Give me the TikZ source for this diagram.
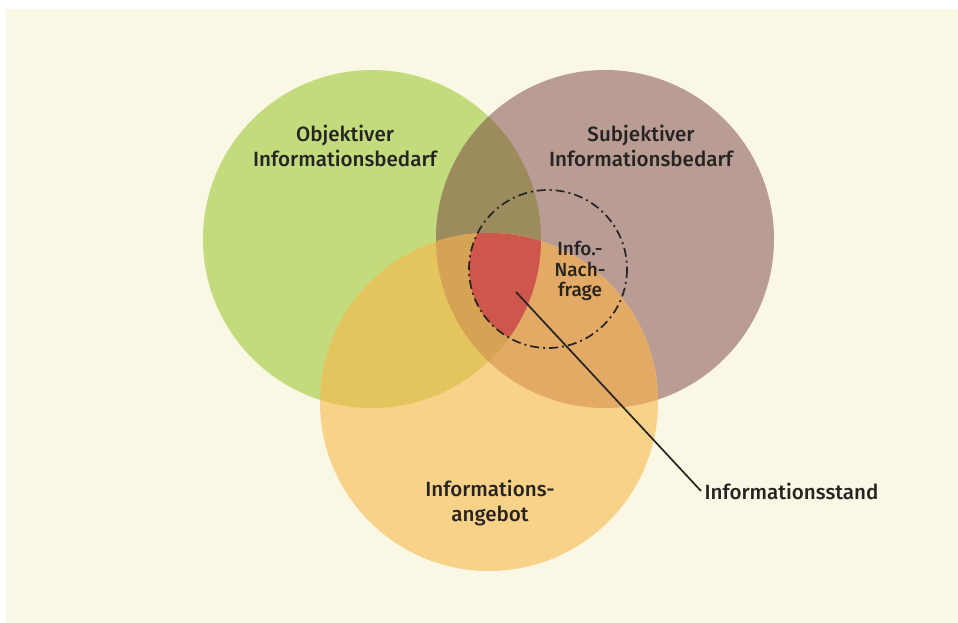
\documentclass[tikz,border=0pt]{standalone}
\usepackage{fontspec}
\setmainfont{Fira Sans Medium}
\usetikzlibrary{positioning}

\definecolor{paper}{RGB}{250,247,228}
\definecolor{objgreen}{RGB}{194,219,125}
\definecolor{subjbrown}{RGB}{185,156,148}
\definecolor{offerorange}{RGB}{249,210,138}
\definecolor{gbmix}{RGB}{156,139,92}
\definecolor{gomix}{RGB}{226,197,92}
\definecolor{bomix}{RGB}{226,170,100}
\definecolor{gbomix}{RGB}{213,163,84}
\definecolor{standred}{RGB}{206,86,76}
\definecolor{ink}{RGB}{38,36,34}

\begin{document}
\begin{tikzpicture}[
    x=1pt, y=-1pt,
    label/.style={text=ink, align=center, font=\fontsize{20.6}{25}\selectfont},
    demand/.style={draw=ink, line width=1.7pt, dash pattern=on 9pt off 4pt on 2pt off 4pt},
    pointer/.style={draw=ink, line width=1.7pt}
]
\useasboundingbox (0,0) rectangle (958,623);
\fill[paper] (6,9) rectangle (958,623);

% the three sets
\coordinate (obj) at (372,239);
\coordinate (subj) at (605,239);
\coordinate (offer) at (489,402);
\coordinate (nachfrage) at (548,269);
\def\setradius{169}

\fill[objgreen] (obj) circle (\setradius);
\fill[subjbrown] (subj) circle (\setradius);
\fill[offerorange] (offer) circle (\setradius);

% pairwise overlaps
\begin{scope}
  \clip (obj) circle (\setradius);
  \fill[gbmix] (subj) circle (\setradius);
  \fill[gomix] (offer) circle (\setradius);
\end{scope}
\begin{scope}
  \clip (subj) circle (\setradius);
  \fill[bomix] (offer) circle (\setradius);
\end{scope}
% all three, and the part of it inside the demand
\begin{scope}
  \clip (obj) circle (\setradius);
  \clip (subj) circle (\setradius);
  \fill[gbomix] (offer) circle (\setradius);
  \clip (offer) circle (\setradius);
  \fill[standred] (nachfrage) circle (79);
\end{scope}

% demand circle
\draw[demand] (nachfrage) circle (79);

% labels
\node[label] (objlabel) at (345,146) {Objektiver\\Informationsbedarf};
\node[label] (subjlabel) at (641,146) {Subjektiver\\Informationsbedarf};
\node[label] (offerlabel) at (490,503) {Informations-\\angebot};
\node[label, font=\fontsize{19}{20.5}\selectfont] (nflabel) at (580,271) {Info.-\\Nach-\\frage};
\node[label, anchor=west] (standlabel) at (701,491) {Informationsstand};

\coordinate (standpt) at (516,292);
\draw[pointer] (standpt) -- (standlabel.west);
\end{tikzpicture}
\end{document}
